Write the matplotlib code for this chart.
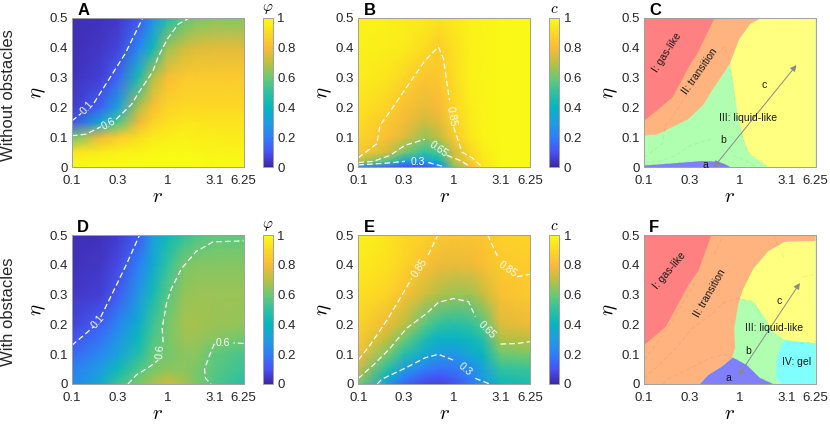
import numpy as np
import matplotlib
matplotlib.use('Agg')
import matplotlib.pyplot as plt
from matplotlib.colors import LinearSegmentedColormap

plt.rcParams['font.family'] = ['Liberation Sans', 'DejaVu Sans']
plt.rcParams['mathtext.fontset'] = 'cm'

parula = LinearSegmentedColormap.from_list('parula', [
    (0.2422, 0.1504, 0.6603), (0.2810, 0.3228, 0.9579), (0.1786, 0.4970, 0.9721),
    (0.1150, 0.6200, 0.8800), (0.0265, 0.7100, 0.7500), (0.1800, 0.7600, 0.6300),
    (0.4200, 0.7900, 0.4500), (0.7400, 0.7500, 0.2500), (0.9800, 0.7300, 0.2200),
    (0.9900, 0.8500, 0.1400), (0.9769, 0.9839, 0.0805)])

r_grid = [0.1, 0.2, 0.3, 0.5, 0.7, 1, 1.5, 2, 3.1, 6.25]
eta_grid = [0, 0.02, 0.05, 0.1, 0.15, 0.2, 0.3, 0.4, 0.5]
r_ticks = [0.1, 0.3, 1, 3.1, 6.25]
r_labels = ['0.1', '0.3', '1', '3.1', '6.25']
eta_ticks = [0, 0.1, 0.2, 0.3, 0.4, 0.5]
eta_labels = ['0', '0.1', '0.2', '0.3', '0.4', '0.5']
cbar_ticks = [0, 0.2, 0.4, 0.6, 0.8, 1]
cbar_labels = ['0', '0.2', '0.4', '0.6', '0.8', '1']

# values, rows go with eta_grid
phi_free = [
    [.99, 1.0, 1.0, 1.0, 1.0, 1.0, 1.0, 1.0, .99, .99],
    [.98, .99, .99, 1.0, 1.0, 1.0, 1.0, 1.0, .99, .99],
    [.93, .95, .97, .98, .99, .99, .99, .99, .98, .98],
    [.60, .78, .85, .91, .95, .96, .97, .96, .96, .95],
    [.10, .35, .55, .78, .88, .92, .94, .94, .93, .93],
    [.05, .14, .32, .68, .82, .88, .90, .90, .90, .90],
    [.03, .06, .14, .45, .68, .81, .85, .85, .85, .85],
    [.02, .04, .07, .22, .42, .66, .73, .75, .76, .76],
    [.02, .03, .04, .11, .25, .45, .57, .61, .63, .63]]
c_free = [
    [.25, .15, .10, .10, .20, .60, .80, .93, .99, .99],
    [.70, .55, .33, .30, .40, .70, .86, .94, .99, .99],
    [.85, .74, .62, .50, .55, .74, .89, .95, .99, .99],
    [.89, .82, .75, .65, .70, .84, .94, .98, .99, .99],
    [.91, .84, .79, .72, .76, .87, .95, .98, .99, .99],
    [.93, .88, .82, .77, .80, .89, .96, .98, .99, .99],
    [.96, .93, .89, .83, .84, .91, .97, .98, .99, .99],
    [.97, .96, .95, .91, .86, .92, .97, .98, .99, .99],
    [.97, .97, .96, .95, .93, .95, .97, .98, .99, .99]]
phi_obst = [
    [.23, .36, .52, .62, .67, .72, .67, .62, .55, .48],
    [.22, .33, .48, .60, .65, .69, .66, .62, .56, .50],
    [.20, .30, .42, .55, .61, .64, .64, .62, .57, .52],
    [.15, .24, .32, .47, .58, .61, .64, .64, .58, .54],
    [.10, .18, .27, .42, .55, .61, .66, .66, .63, .60],
    [.07, .13, .22, .37, .52, .61, .67, .67, .66, .65],
    [.04, .06, .12, .28, .44, .57, .65, .66, .66, .66],
    [.03, .04, .08, .20, .35, .50, .62, .63, .63, .63],
    [.02, .03, .05, .12, .30, .42, .50, .55, .58, .58]]
c_obst = [
    [.60, .30, .15, .08, .07, .10, .18, .28, .42, .47],
    [.66, .38, .20, .12, .10, .13, .20, .29, .45, .48],
    [.72, .48, .30, .20, .17, .18, .24, .32, .50, .52],
    [.80, .62, .48, .34, .29, .28, .34, .40, .60, .62],
    [.85, .70, .60, .45, .38, .38, .42, .47, .68, .70],
    [.88, .78, .70, .57, .50, .48, .50, .56, .75, .78],
    [.92, .88, .82, .73, .68, .66, .66, .71, .82, .85],
    [.95, .92, .88, .82, .78, .77, .78, .81, .85, .86],
    [.97, .94, .90, .87, .85, .83, .83, .84, .87, .88]]

# contour lines (r, eta), cut where the label sits
a_01 = [[(.1, .155), (.125, .18)], [(.17, .215), (.3, .34), (.36, .38), (.55, .5)]]
a_06 = [[(.1, .105), (.14, .11), (.2, .135)], [(.29, .16), (.42, .21), (.5, .25), (.7, .32), (.8, .37), (1, .43), (1.3, .48), (1.7, .5)]]
b_085 = [[(.1, .031), (.156, .078), (.169, .14), (.207, .179), (.309, .26), (.5, .358), (.69, .403), (.78, .363), (.9, .224)],
         [(.995, .134), (1.22, .05), (1.55, .031), (1.93, .003)]]
b_065 = [[(.1, .015), (.144, .019), (.215, .039), (.309, .073), (.5, .093)], [(.85, .039), (1.17, .022), (1.45, .003)]]
b_03 = [[(.1, .007), (.198, .013), (.309, .019)], [(.54, .015), (.75, .003)]]
d_01 = [[(.1, .13), (.17, .193)], [(.2, .225), (.29, .33), (.37, .4), (.51, .5)]]
d_06a = [[(.386, 0), (.47, .03), (.65, .058), (.8, .08)], [(.9, .14), (.88, .187), (.975, .27), (1.1, .32), (1.4, .387), (2, .445), (3, .477), (6.25, .48)]]
d_06b = [[(6.25, .136), (4.9, .138)], [(3.1, .135), (2.9, .115), (2.44, .05), (2.5, .019), (2.85, 0)]]
e_085a = [[(.1, .0805), (.133, .131), (.205, .22), (.363, .354)], [(.54, .433), (.68, .5)]]
e_085b = [[(2.26, .5), (2.95, .42)], [(4.6, .36), (6.25, .368)]]
e_065 = [[(.1, .019), (.144, .064), (.215, .12), (.32, .187), (.52, .237), (.69, .274), (.995, .287), (1.43, .276), (1.68, .226)],
         [(3.08, .134), (4.6, .136), (6.25, .142)]]
e_03 = [[(.158, 0), (.176, .016), (.309, .053), (.5, .088), (.69, .0995), (.995, .08)], [(1.68, .019), (2.38, 0)]]

# contour labels: text, r, eta, angle
a_text = [('0.1', .145, .2, 48), ('0.6', .24, .145, 28)]
b_text = [('0.85', .95, .17, -80), ('0.65', .7, .06, -35), ('0.3', .42, .016, 0)]
d_text = [('0.1', .185, .21, 50), ('0.6', .85, .11, 85), ('0.6', 3.8, .138, 0)]
e_text = [('0.85', .44, .39, 57), ('0.85', 3.7, .385, -35), ('0.65', 2.2, .18, -45), ('0.3', 1.3, .05, -40)]

# phase regions (r, eta)
c_red = [(.1, .5), (.55, .5), (.36, .38), (.3, .34), (.2, .235), (.17, .215), (.125, .18), (.1, .155)]
c_orange = [(.1, .5), (1.7, .5), (1.3, .48), (1, .43), (.8, .35), (.7, .32), (.5, .25), (.42, .21), (.29, .16), (.2, .135), (.14, .11), (.1, .105)]
c_yellow = [(6.25, .5), (1.7, .5), (1.3, .48), (1, .43), (.794, .346), (.86, .279), (.97, .166), (1.14, .076), (1.28, .043), (1.92, .004), (1.92, 0), (6.25, 0)]
c_blue = [(.1, .005), (.2, .012), (.4, .02), (.6, .018), (.7, .01), (.8, 0), (.1, 0)]
f_red = [(.1, .5), (.51, .5), (.37, .38), (.29, .33), (.17, .193), (.1, .13)]
f_orange = [(.1, .5), (6.25, .5), (6.25, .48), (3, .477), (2, .445), (1.4, .387), (1.1, .32), (.975, .27), (.88, .187), (.9, .12), (.83, .086), (.65, .058), (.47, .03), (.386, 0), (.1, 0)]
f_yellow = [(6.25, .48), (3, .477), (2, .445), (1.4, .387), (1.1, .32), (1.01, .287), (1.39, .276), (1.77, .231), (2.25, .175), (2.99, .147), (6.25, .136)]
f_cyan = [(2.99, .147), (6.25, .136), (6.25, 0), (2.76, 0), (2.44, .019), (2.44, .075), (2.65, .12)]
f_blue = [(.386, 0), (.47, .03), (.65, .058), (.83, .086), (.86, .088), (1.19, .064), (1.64, .02), (2.25, 0)]

c_labels = [('I: gas-like', .173, .384, 57), ('II: transition', .385, .32, 55), ('III: liquid-like', 1.24, .164, 0), ('a', .434, .006, 0), ('b', .675, .09, 0), ('c', 1.8, .275, 0)]
f_labels = [('I: gas-like', .183, .379, 50), ('II: transition', .49, .305, 60), ('III: liquid-like', 2.29, .188, 0), ('IV: gel', 3.95, .074, 0), ('a', .76, .02, 0), ('b', 1.23, .11, 0), ('c', 2.58, .28, 0)]
c_arrow = [(.54, .0), (3.95, .342)]
f_arrow = [(.98, .028), (4.29, .339)]

W, H = 830, 425
lefts = [72, 358.3, 644]
tops = [18, 235]
aw, ah = 171.5, 149
cb_off = 190.5
fig = plt.figure(figsize=(W / 100, H / 100), dpi=100)
TXT = '#262626'


def panel(i, j):
    ax = fig.add_axes([lefts[i] / W, 1 - (tops[j] + ah) / H, aw / W, ah / H])
    ax.set_xscale('log')
    ax.set_xlim(0.1, 6.25)
    ax.set_ylim(0, 0.5)
    ax.set_xticks(r_ticks)
    ax.set_xticklabels(r_labels)
    ax.set_xticks([], minor=True)
    ax.set_yticks(eta_ticks)
    ax.set_yticklabels(eta_labels)
    ax.tick_params(length=0, labelsize=9.5, colors=TXT)
    ax.tick_params(axis='x', pad=6)
    ax.tick_params(axis='y', pad=3)
    for s in ax.spines.values():
        s.set_color('#a0a0a0')
        s.set_linewidth(0.7)
    ax.set_xlabel('$r$', fontsize=15, labelpad=0)
    ax.set_ylabel(r'$\eta$', fontsize=15, labelpad=1)
    ax.text(0.03, 1.0, 'ABCDEF'[j * 3 + i], transform=ax.transAxes, fontsize=12, fontweight='bold', color='k', va='bottom')
    return ax


def heat(i, j, vals, lines, texts, name):
    ax = panel(i, j)
    X, Y = np.meshgrid(r_grid, eta_grid)
    pc = ax.pcolormesh(X, Y, np.array(vals), cmap=parula, vmin=0, vmax=1, shading='gouraud', rasterized=True)
    for part in lines:
        for seg in part:
            xy = np.array(seg)
            ax.plot(xy[:, 0], xy[:, 1], color='white', lw=0.9, dashes=(4.5, 2.5))
    for t, x, y, a in texts:
        ax.text(x, y, t, color='white', fontsize=7.5, rotation=a, ha='center', va='center')
    cax = fig.add_axes([(lefts[i] + cb_off) / W, 1 - (tops[j] + ah) / H, 10.5 / W, ah / H])
    cb = fig.colorbar(pc, cax=cax)
    cb.set_ticks(cbar_ticks)
    cb.set_ticklabels(cbar_labels)
    cb.ax.tick_params(length=0, labelsize=9.5, colors=TXT, pad=3)
    cb.outline.set_edgecolor('#a0a0a0')
    cb.outline.set_linewidth(0.7)
    cax.text(0.5, 1.012, name, transform=cax.transAxes, fontsize=11, ha='center', va='bottom')


def phases(i, j, regions, lines, labels, arrow):
    ax = panel(i, j)
    ax.set_facecolor('#b0ffb0')
    for pts, col in regions:
        ax.fill(*zip(*pts), color=col, lw=0)
    for part in lines:
        for seg in part:
            xy = np.array(seg)
            ax.plot(xy[:, 0], xy[:, 1], color='k', alpha=0.06, lw=0.7, dashes=(4.5, 2.5))
    ax.annotate('', xy=arrow[1], xytext=arrow[0], arrowprops=dict(arrowstyle='<|-|>', color='#8a8a8a', lw=0.7, mutation_scale=9, shrinkA=0, shrinkB=0))
    for t, x, y, a in labels:
        ax.text(x, y, t, color='#1a1a1a', fontsize=7.5, rotation=a, ha='center', va='center')


heat(0, 0, phi_free, [a_01, a_06], a_text, r'$\varphi$')
heat(1, 0, c_free, [b_085, b_065, b_03], b_text, '$c$')
phases(2, 0, [(c_red, '#ff8080'), (c_orange, '#ffb480'), (c_red, '#ff8080'), (c_yellow, '#ffff80'), (c_blue, '#8080ff')],
       [b_085, b_065, b_03], c_labels, c_arrow)
heat(0, 1, phi_obst, [d_01, d_06a, d_06b], d_text, r'$\varphi$')
heat(1, 1, c_obst, [e_085a, e_085b, e_065, e_03], e_text, '$c$')
phases(2, 1, [(f_orange, '#ffb480'), (f_red, '#ff8080'), (f_yellow, '#ffff80'), (f_cyan, '#80ffff'), (f_blue, '#8080ff')],
       [e_085a, e_085b, e_065, e_03], f_labels, f_arrow)

fig.text(9 / W, 1 - 95 / H, 'Without obstacles', rotation=90, fontsize=12, color=TXT, ha='center', va='center')
fig.text(9 / W, 1 - 312 / H, 'With obstacles', rotation=90, fontsize=12, color=TXT, ha='center', va='center')

fig.savefig('out.png', dpi=100)
